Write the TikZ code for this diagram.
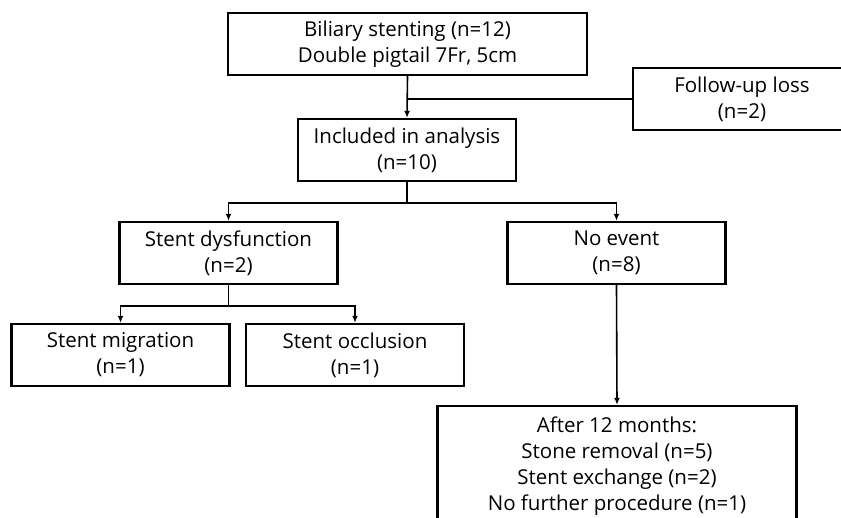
\documentclass[tikz,border=0pt]{standalone}
\usepackage{fontspec}
\setmainfont{Open Sans}
\usepackage{tikz}
\usetikzlibrary{positioning,arrows.meta}

\begin{document}
\begin{tikzpicture}[
    x=1pt, y=-1pt,
    box/.style={rectangle, draw=black, line width=2.4pt, fill=white, minimum width=218pt, minimum height=62pt, inner sep=0pt, align=center, font=\fontsize{20.5}{26}\selectfont},
    widebox/.style={box, minimum width=359pt},
    tallbox/.style={widebox, minimum height=120pt},
    link/.style={line width=1.6pt},
    arrow/.style={link, -{Latex[length=7pt,width=6pt]}}
]

\useasboundingbox (0,0) rectangle (841,517);
\clip (0,0) rectangle (841,517);

\node[widebox] (stenting) at (407.5,44) {Biliary stenting (n=12)\\Double pigtail 7Fr, 5cm};

\node[box] (fuloss) at (742,99) {Follow-up loss\\(n=2)};

\node[box] (included) at (407,150) {Included in analysis\\(n=10)};

\node[box] (dysfunction) at (228.5,253) {Stent dysfunction\\(n=2)};

\node[box] (noevent) at (616.5,253) {No event\\(n=8)};

\node[box] (migration) at (120.5,355) {Stent migration\\(n=1)};

\node[box] (occlusion) at (355,355) {Stent occlusion\\(n=1)};

\node[tallbox] (after) at (617,466) {After 12 months:\\Stone removal (n=5)\\Stent exchange (n=2)\\No further procedure (n=1)};

% branch points
\coordinate (split) at (stenting.south |- fuloss.west);
\coordinate[below=21pt of included.south] (fork1);
\coordinate[below=21pt of dysfunction.south] (fork2);

\draw[arrow] (stenting.south) -- (included.north);
\draw[link] (split) -- (fuloss.west);

\draw[link] (included.south) -- (fork1);
\draw[arrow] (fork1) -| (dysfunction.north);
\draw[arrow] (fork1) -| (noevent.north);

\draw[link] (dysfunction.south) -- (fork2);
\draw[arrow] (fork2) -| (migration.north);
\draw[arrow] (fork2) -| (occlusion.north);

\draw[arrow] (noevent.south) -- (after.north);

\end{tikzpicture}
\end{document}
